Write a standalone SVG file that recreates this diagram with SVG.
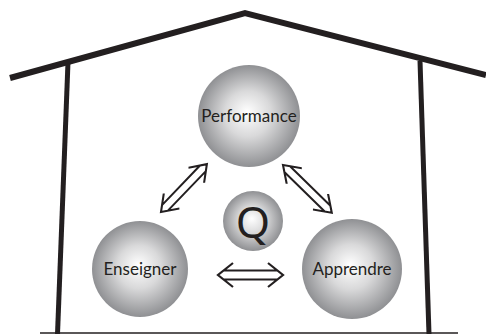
<svg xmlns="http://www.w3.org/2000/svg" width="486" height="334" viewBox="0 0 486 334">
<style>
.house{fill:none;stroke:#231f20;stroke-linecap:butt;stroke-linejoin:miter}
.ball{fill:url(#g)}
.lbl{font-family:Lato,"Open Sans",sans-serif;font-size:17px;fill:#231f20;text-anchor:middle}
.arr{fill:none;stroke:#231f20;stroke-width:2.2;stroke-linejoin:miter}
</style>
<defs>
<radialGradient id="g" cx="0.5" cy="0.5" r="0.5" fx="0.48" fy="0.46">
<stop offset="0" stop-color="#ffffff"/>
<stop offset="0.45" stop-color="#d9d9da"/>
<stop offset="1" stop-color="#8f9093"/>
</radialGradient>
<path id="dbl" d="M15,-12 L0,0 L15,12 M5.6,-4.5 H59.4 M5.6,4.5 H59.4 M50,-12 L65,0 L50,12"/>
</defs>
<g id="house">
<polyline class="house" stroke-width="6" points="10,78 245,13 486,75"/>
<line class="house" stroke-width="5" x1="68" y1="62" x2="57.5" y2="334"/>
<line class="house" stroke-width="5" x1="420" y1="61" x2="429" y2="334"/>
<line class="house" stroke-width="1.5" x1="40" y1="333" x2="458" y2="333"/>
</g>
<g id="connectors">
<use href="#dbl" class="arr" transform="translate(218,275)"/>
<use href="#dbl" class="arr" transform="translate(161,212) rotate(-46.2) scale(1.02,0.9)"/>
<use href="#dbl" class="arr" transform="translate(283,165) rotate(44.4) scale(1.05,0.9)"/>
</g>
<g id="performance">
<circle class="ball" cx="249" cy="116" r="51"/>
<text class="lbl" x="249" y="122">Performance</text>
</g>
<g id="enseigner">
<circle class="ball" cx="140" cy="269" r="48"/>
<text class="lbl" x="140" y="275">Enseigner</text>
</g>
<g id="apprendre">
<circle class="ball" cx="352" cy="269" r="50"/>
<text class="lbl" x="352" y="275">Apprendre</text>
</g>
<g id="q">
<circle class="ball" cx="253" cy="221" r="30"/>
<text x="253" y="238" style="font-family:'Noto Sans','Open Sans',sans-serif;font-size:44px;fill:#231f20;text-anchor:middle">Q</text>
</g>
</svg>
